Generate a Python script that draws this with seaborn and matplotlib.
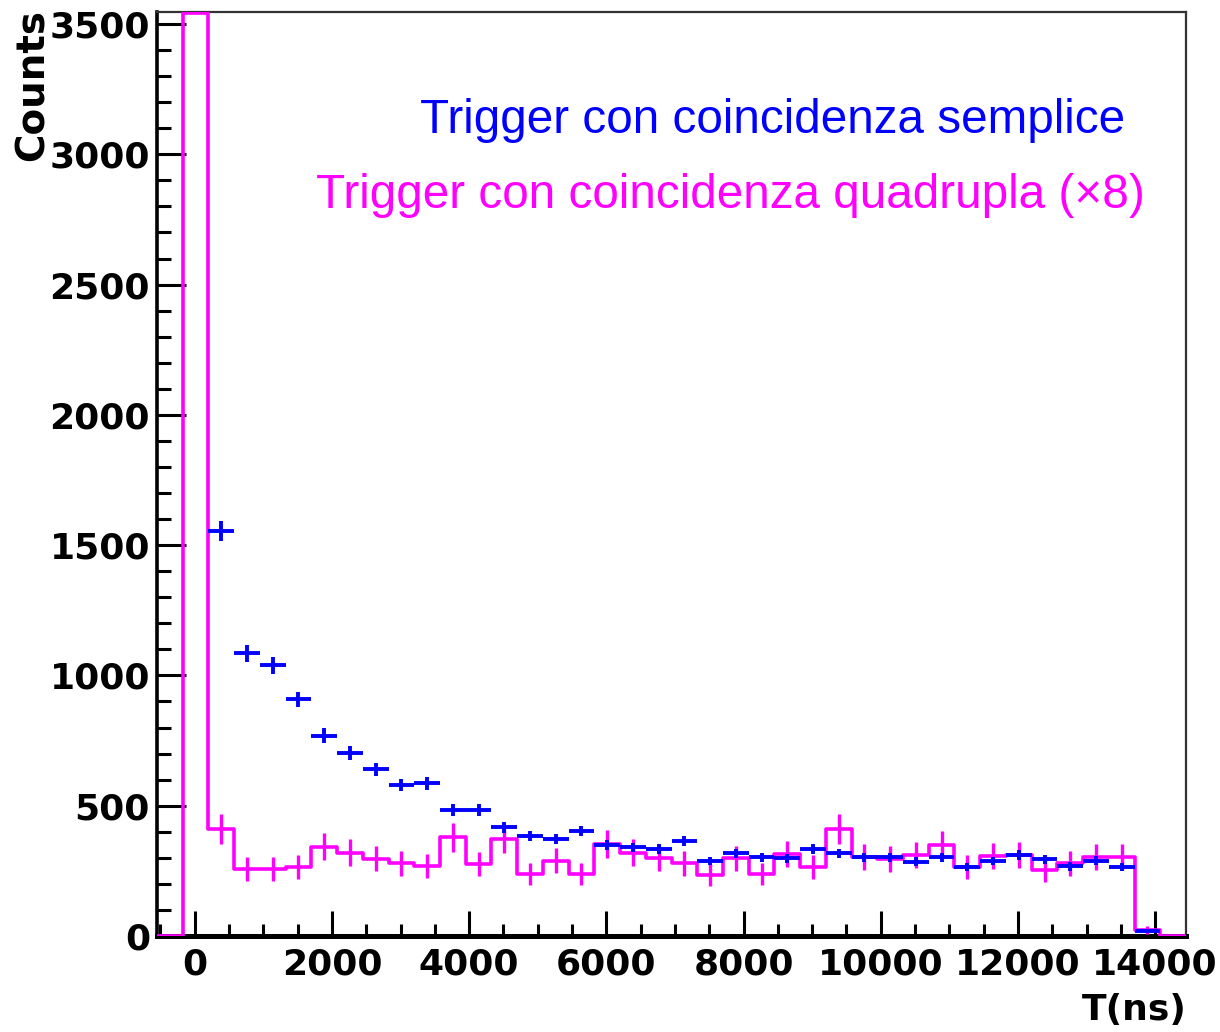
import numpy as np
import pandas as pd
import matplotlib
matplotlib.use("Agg")
import matplotlib.pyplot as plt
from matplotlib.ticker import MultipleLocator
import seaborn as sns

# Binning of the time spectrum: 40 bins of 375 ns
t_min, t_max, n_bins = -550.0, 14450.0, 40
y_max = 3546

# Simple-coincidence trigger: counts in bins 2..38
simple_first_bin = 2
simple_counts = [1554, 1085, 1039, 908, 769, 701, 640, 579, 586, 484,
                 484, 417, 385, 372, 403, 350, 340, 333, 365, 288,
                 317, 302, 298, 334, 317, 302, 302, 285, 302, 265,
                 288, 311, 295, 267, 289, 264, 18]

# Quadruple-coincidence trigger, counts already multiplied by the scale
quad_scale = 8
quad_counts_scaled = [0, 3800, 412, 258, 258, 264, 343, 320, 297, 279,
                      270, 379, 276, 373, 238, 289, 238, 353, 320, 298,
                      279, 234, 298, 238, 316, 266, 411, 302, 295, 311,
                      349, 264, 308, 311, 253, 279, 302, 302, 23, 0]

y_ticks = [0, 500, 1000, 1500, 2000, 2500, 3000, 3500]
x_ticks = [0, 2000, 4000, 6000, 8000, 10000, 12000, 14000]

label_simple = "Trigger con coincidenza semplice"
label_quad = "Trigger con coincidenza quadrupla (\u00d78)"

BLUE = "#0000ff"
MAGENTA = "#ff00ff"

sns.set_theme(style="white")
plt.rcParams["font.family"] = ["DejaVu Sans"]
plt.rcParams["text.color"] = "black"

edges = np.linspace(t_min, t_max, n_bins + 1)
centers = 0.5 * (edges[:-1] + edges[1:])
width = edges[1] - edges[0]

quad = pd.DataFrame({"t": centers, "n": quad_counts_scaled})
# off-scale bins are drawn flat against the top of the frame
quad["shown"] = quad["n"].clip(upper=y_max - 4)
simple = pd.DataFrame({
    "t": centers[simple_first_bin:simple_first_bin + len(simple_counts)],
    "n": simple_counts,
})

fig = plt.figure(figsize=(12.2, 10.32), dpi=100)
ax = fig.add_axes([157 / 1220, 1 - 936 / 1032, 1029 / 1220, 924 / 1032])

# quadruple trigger: step histogram with Poisson errors of the unscaled counts
sns.histplot(data=quad, x="t", weights="shown", binwidth=width,
             binrange=(t_min, t_max), element="step", fill=False,
             color=MAGENTA, linewidth=2.6, ax=ax, zorder=3)
q = quad[(quad["n"] > 0) & (quad["n"] < y_max)]
ax.errorbar(q["t"], q["n"], yerr=np.sqrt(quad_scale * q["n"]), fmt="none",
            ecolor=MAGENTA, elinewidth=2.4, capsize=0, zorder=3)

# simple trigger: bin-wide horizontal bars with vertical Poisson errors
ax.errorbar(simple["t"], simple["n"], xerr=width / 2,
            yerr=np.sqrt(simple["n"]), fmt="none", ecolor=BLUE,
            elinewidth=2.8, capsize=0, zorder=4)

ax.set_xlim(t_min, t_max)
ax.set_ylim(0, y_max)
ax.set_xlabel("")
ax.set_ylabel("")

ax.set_xticks(x_ticks)
ax.set_yticks(y_ticks)
ax.xaxis.set_minor_locator(MultipleLocator(500))
ax.yaxis.set_minor_locator(MultipleLocator(100))
ax.tick_params(axis="y", which="major", direction="in", length=21,
               width=2.2, color="black", left=True, right=False, pad=5,
               labelsize=26, labelcolor="black")
ax.tick_params(axis="y", which="minor", direction="in", length=10,
               width=2.2, color="black", left=True, right=False)
ax.tick_params(axis="x", which="major", direction="in", length=18,
               width=2.2, color="black", bottom=True, top=False, pad=8,
               labelsize=26, labelcolor="black")
ax.tick_params(axis="x", which="minor", direction="in", length=9,
               width=2.2, color="black", bottom=True, top=False)
for lab in ax.get_xticklabels() + ax.get_yticklabels():
    lab.set_fontweight("bold")

ax.spines["left"].set_linewidth(2.6)
ax.spines["bottom"].set_linewidth(3.6)
for s in ("left", "bottom"):
    ax.spines[s].set_color("black")
for s in ("top", "right"):
    ax.spines[s].set_linewidth(1.6)
    ax.spines[s].set_color("#333333")
ax.grid(False)

ax.text(0.9407, 0.869, label_simple, transform=ax.transAxes, ha="right",
        va="baseline", color=BLUE, fontsize=34.3,
        fontfamily="Liberation Sans")
ax.text(0.9602, 0.788, label_quad, transform=ax.transAxes, ha="right",
        va="baseline", color=MAGENTA, fontsize=34.3,
        fontfamily="Liberation Sans")

fig.text(33 / 1220, 1 - 9 / 1032, "Counts", rotation=90, ha="center",
         va="top", fontsize=28, fontweight="bold", color="black")
fig.text(1187 / 1220, 1 - 1020 / 1032, "T(ns)", ha="right", va="baseline",
         fontsize=26, fontweight="bold", color="black")

fig.savefig("out.png", dpi=100, facecolor="white")
